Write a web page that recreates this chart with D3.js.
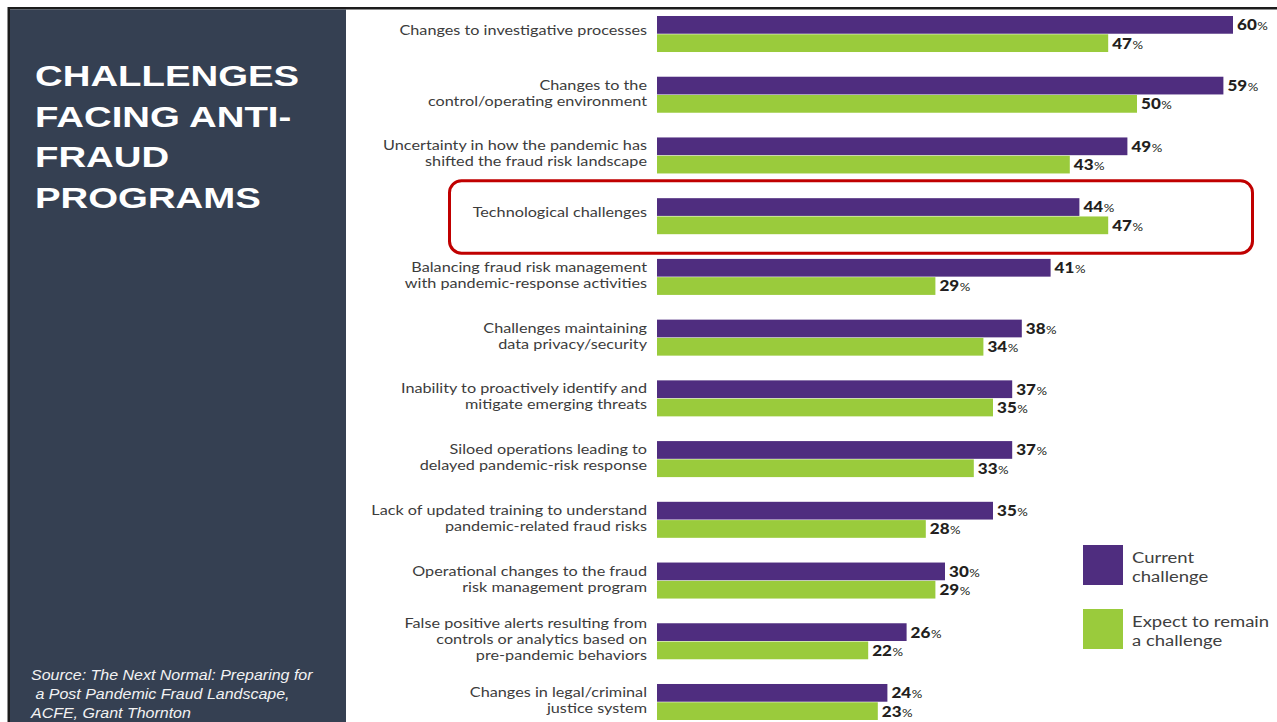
<!DOCTYPE html>
<html><head><meta charset="utf-8">
<script src="https://cdn.jsdelivr.net/npm/d3@7"></script>
<style>html,body{margin:0;padding:0;background:#fff;overflow:hidden}</style>
</head><body>
<svg id="chart" width="1277" height="722"></svg>
<script>
// ---- data ----
const categories = [
  "Changes to investigative processes",
  "Changes to the\ncontrol/operating environment",
  "Uncertainty in how the pandemic has\nshifted the fraud risk landscape",
  "Technological challenges",
  "Balancing fraud risk management\nwith pandemic-response activities",
  "Challenges maintaining\ndata privacy/security",
  "Inability to proactively identify and\nmitigate emerging threats",
  "Siloed operations leading to\ndelayed pandemic-risk response",
  "Lack of updated training to understand\npandemic-related fraud risks",
  "Operational changes to the fraud\nrisk management program",
  "False positive alerts resulting from\ncontrols or analytics based on\npre-pandemic behaviors",
  "Changes in legal/criminal\njustice system"
];
const currentChallenge = [60, 59, 49, 44, 41, 38, 37, 37, 35, 30, 26, 24];
const expectToRemain   = [47, 50, 43, 47, 29, 34, 35, 33, 28, 29, 22, 23];
const seriesKeys   = ["current", "expect"];
const seriesLabels = ["Current\nchallenge", "Expect to remain\na challenge"];
const highlighted  = "Technological challenges";
const titleLines   = ["CHALLENGES", "FACING ANTI-", "FRAUD", "PROGRAMS"];
const sourceLines  = ["Source: The Next Normal: Preparing for", " a Post Pandemic Fraud Landscape,", "ACFE, Grant Thornton"];
const valueDomain  = [0, 60];

// ---- styles ----
const colors = { current: "#4f2d7f", expect: "#9acb3c" };
const panelColor = "#354052";
const labelFont = "Lato, 'Open Sans', sans-serif";

const svg = d3.select("#chart");

// slide frame + left panel
svg.append("rect").attr("x", 0).attr("y", 0).attr("width", 1277).attr("height", 722).attr("fill", "#fff");
svg.append("rect").attr("x", 8).attr("y", 7).attr("width", 1269).attr("height", 2.5).attr("fill", "#1c1c1c");
svg.append("rect").attr("x", 7.5).attr("y", 7).attr("width", 2.5).attr("height", 715).attr("fill", "#1c1c1c");
svg.append("rect").attr("x", 10).attr("y", 9.5).attr("width", 336).attr("height", 713).attr("fill", panelColor);

// text drawn with a horizontal stretch (wide slide typography)
function stretched(parent, x, y, text, opts) {
  const g = parent.append("g").attr("transform", `translate(${x},${y}) scale(${opts.sx},1)`);
  return g.append("text").attr("x", 0).attr("y", 0)
    .attr("font-family", opts.family).attr("font-size", opts.size)
    .attr("font-weight", opts.weight || "normal").attr("font-style", opts.style || "normal")
    .attr("fill", opts.fill).attr("text-anchor", opts.anchor || "start")
    .style("white-space", "pre").text(text);
}

// title
titleLines.forEach((line, i) => {
  stretched(svg, 35, 86 + i * 40.6, line, { family: "'Liberation Sans', Arial, sans-serif", size: 29.5, weight: "bold", fill: "#ffffff", sx: 1.3 });
});

// source note
sourceLines.forEach((line, i) => {
  stretched(svg, 31, 680 + i * 19.2, line, { family: "'Liberation Sans', Arial, sans-serif", size: 14, style: "italic", fill: "#f2f2f2", sx: 1.143 });
});

// ---- scales ----
const x = d3.scaleLinear().domain(valueDomain).range([657, 1233]);
const y = d3.scaleBand().domain(categories).range([16, 720]).paddingInner(0.407).paddingOuter(0);
const sub = d3.scaleBand().domain(seriesKeys).range([0, y.bandwidth()]).paddingInner(0.03);

const rows = categories.map((c, i) => ({ cat: c, current: currentChallenge[i], expect: expectToRemain[i] }));

// highlight frame around the technology row
const hy = y(highlighted);
svg.append("rect")
  .attr("x", 449.5).attr("y", hy - 17.5)
  .attr("width", 803).attr("height", y.bandwidth() + 36.5)
  .attr("rx", 12).attr("ry", 12)
  .attr("fill", "none").attr("stroke", "#c00000").attr("stroke-width", 3);

// bars
const groups = svg.append("g").selectAll("g.row").data(rows).join("g")
  .attr("class", "row").attr("transform", d => `translate(0,${y(d.cat)})`);

groups.selectAll("rect").data(d => seriesKeys.map(k => ({ key: k, value: d[k] }))).join("rect")
  .attr("x", x(0)).attr("y", d => sub(d.key))
  .attr("width", d => x(d.value) - x(0)).attr("height", sub.bandwidth())
  .attr("fill", d => colors[d.key]);

// value labels
groups.each(function(d) {
  const g = d3.select(this);
  seriesKeys.forEach(k => {
    const t = stretched(g, x(d[k]) + 4, sub(k) + sub.bandwidth() / 2 + 5.4,
      "", { family: "Lato, sans-serif", size: 15.5, weight: 900, fill: "#231f20", sx: 1.1 });
    t.append("tspan").text(d[k]);
    t.append("tspan").attr("font-size", 12).attr("font-weight", 400).attr("dx", 0.5).text("%");
  });
});

// category labels
const lineGap = 16, capH = 10;
groups.each(function(d) {
  const g = d3.select(this);
  const lines = d.cat.split("\n");
  const block = capH + (lines.length - 1) * lineGap;
  const lift = lines.length === 1 ? 4 : 2;
  const top = y.bandwidth() / 2 - lift - block / 2;
  lines.forEach((line, i) => {
    stretched(g, 647, top + capH + i * lineGap, line, { family: labelFont, size: 13.3, fill: "#3c3c3c", anchor: "end", sx: 1.22 });
  });
});

// legend
const legend = svg.append("g");
const legendY = d3.scalePoint().domain(seriesKeys).range([545, 609]);
seriesKeys.forEach((k, i) => {
  const ly = legendY(k);
  legend.append("rect").attr("x", 1083).attr("y", ly).attr("width", 40).attr("height", 40).attr("fill", colors[k]);
  seriesLabels[i].split("\n").forEach((line, j) => {
    stretched(legend, 1132, ly + 18 + j * 19, line, { family: labelFont, size: 16, fill: "#404040", sx: 1.155 });
  });
});
</script>
</body></html>
